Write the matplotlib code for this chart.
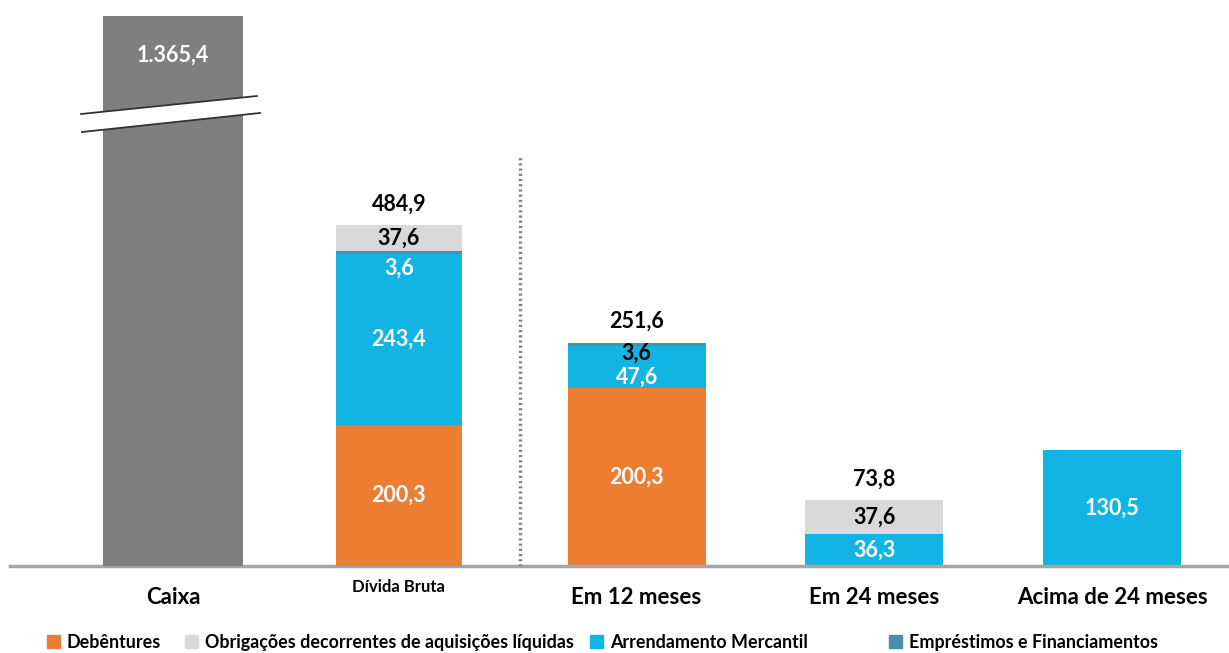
import matplotlib
matplotlib.use("Agg")
import matplotlib.pyplot as plt
from matplotlib.patches import Polygon, Patch

plt.rcParams['font.family'] = ['Lato', 'DejaVu Sans']
plt.rcParams['font.weight'] = 'bold'

categories = ["Caixa", "Dívida Bruta", "Em 12 meses", "Em 24 meses", "Acima de 24 meses"]
caixa = [1365.4, 0, 0, 0, 0]
debentures = [0, 200.3, 200.3, 0, 0]
arrendamento = [0, 243.4, 47.6, 36.3, 130.5]
emprestimos = [0, 3.6, 3.6, 0, 0]
obrigacoes = [0, 37.6, 0, 37.6, 0]
totals = [None, 484.9, 251.6, 73.8, None]

# Caixa and Dívida Bruta sit on their own (compressed) scale in the original
left_group = [True, True, False, False, False]
xpos = [0.05, 1, 2, 3, 4]
widths = [0.59, 0.53, 0.58, 0.58, 0.58]

c_caixa = '#7F7F7F'
c_deb = '#ED7D31'
c_obr = '#D9D9D9'
c_arr = '#11B4E2'
c_emp = '#4A8FAE'


def fmt(v):
    s = f"{v:,.1f}"
    return s.replace(',', 'X').replace('.', ',').replace('X', '.')


fig = plt.figure(figsize=(12.29, 6.53), dpi=100)
ax = fig.add_axes([0, 1 - 566 / 653, 1, 550 / 653])
ax2 = ax.twinx()
for a in (ax, ax2):
    a.set_xlim(-0.677, 4.491)
    for s in a.spines.values():
        s.set_visible(False)
    a.set_yticks([])
ax.set_ylim(0, 619)
ax2.set_ylim(0, 782)

series = [
    ("Debêntures", debentures, c_deb, 'white'),
    ("Arrendamento Mercantil", arrendamento, c_arr, 'white'),
    ("Empréstimos e Financiamentos", emprestimos, c_emp, None),
    ("Obrigações decorrentes de aquisições líquidas", obrigacoes, c_obr, 'black'),
]

# label tweaks (points below segment top) for thin / crowded segments
label_shift = {(1, 2): (-12, 'white'), (2, 2): (-7.5, 'black'), (2, 1): (-23, 'white')}
fs = 15.5

for i in range(len(categories)):
    a = ax2 if left_group[i] else ax
    if caixa[i]:
        a.bar(xpos[i], caixa[i], width=widths[i], color=c_caixa)
        a.annotate(fmt(caixa[i]), (xpos[i], 1), xycoords=('data', 'axes fraction'),
                   xytext=(0, -28), textcoords='offset points', ha='center', va='center',
                   color='white', fontsize=fs, fontweight='bold')
    bottom = 0
    for k, (name, vals, col, tcol) in enumerate(series):
        v = vals[i]
        if v == 0:
            continue
        a.bar(xpos[i], v, bottom=bottom, width=widths[i], color=col, linewidth=0)
        if (i, k) in label_shift:
            dy, tc = label_shift[(i, k)]
            a.annotate(fmt(v), (xpos[i], bottom + v), xytext=(0, dy), textcoords='offset points',
                       ha='center', va='center', color=tc, fontsize=fs, fontweight='bold')
        elif tcol:
            a.annotate(fmt(v), (xpos[i], bottom + v / 2), ha='center', va='center',
                       color=tcol, fontsize=fs, fontweight='bold')
        bottom += v
    if totals[i]:
        a.annotate(fmt(totals[i]), (xpos[i], bottom), xytext=(0, 15), textcoords='offset points',
                   ha='center', va='center', color='black', fontsize=fs, fontweight='bold')

# axis break on the Caixa bar
tr = fig.transFigure
H, W = 653.0, 1229.0
brk = Polygon([(81 / W, 1 - 114 / H), (257 / W, 1 - 96 / H), (260 / W, 1 - 113 / H), (82 / W, 1 - 132 / H)],
              closed=True, transform=tr, facecolor='white', edgecolor='none', zorder=5)
fig.patches.append(brk)
fig.lines.append(plt.Line2D([81 / W, 257 / W], [1 - 114 / H, 1 - 96 / H], transform=tr, color='#333333', lw=1.3, zorder=6))
fig.lines.append(plt.Line2D([82 / W, 260 / W], [1 - 132 / H, 1 - 113 / H], transform=tr, color='#333333', lw=1.3, zorder=6))

# baseline and divider
ax.axhline(0, xmin=0.008, xmax=1, color='#A6A6A6', lw=2.5, clip_on=False)
ax.axvline(1.51, ymin=0, ymax=0.745, color='#7F7F7F', lw=2.5, linestyle=(0, (0.6, 0.9)))

ax.set_xticks(xpos)
ax.set_xticklabels(categories)
ax.tick_params(axis='x', length=0, pad=15)
for j, lbl in enumerate(ax.get_xticklabels()):
    lbl.set_fontweight('bold')
    if j == 1:
        lbl.set_fontsize(12)
        lbl.set_y(0.015)
    else:
        lbl.set_fontsize(16)
ax2.xaxis.set_visible(False)

# legend entries spaced like the original (uneven gaps)
names = ["Debêntures", "Obrigações decorrentes de aquisições líquidas",
         "Arrendamento Mercantil", "Empréstimos e Financiamentos"]
cols = [c_deb, c_obr, c_arr, c_emp]
leg_x = [47, 185, 590, 889]
for n, c, lx in zip(names, cols, leg_x):
    fig.legend([Patch(color=c)], [n], loc='lower left', bbox_to_anchor=(lx / W, 1 - 651 / H),
               frameon=False, borderpad=0, borderaxespad=0, handlelength=0.7, handleheight=0.7,
               handletextpad=0.4, prop={'weight': 'bold', 'size': 12.9})

fig.savefig('out.png', dpi=100)
